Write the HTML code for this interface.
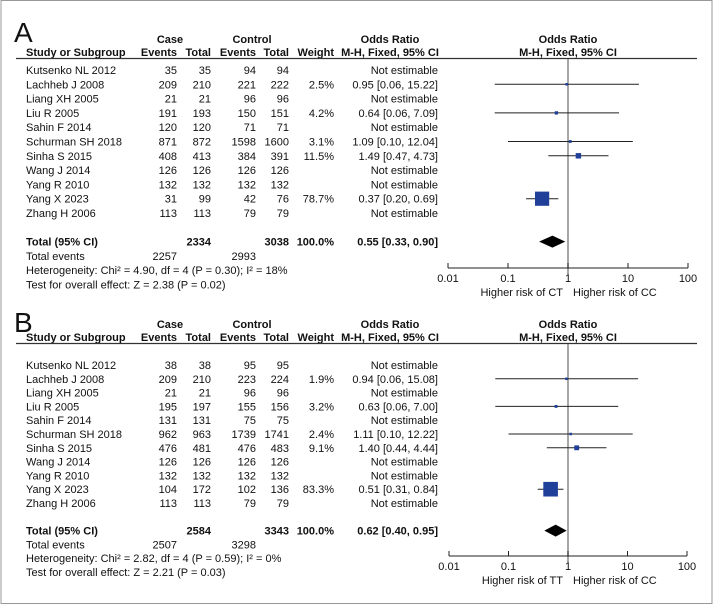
<!DOCTYPE html>
<html><head><meta charset="utf-8"><style>
html,body{margin:0;padding:0;background:#fff}
svg{display:block;font-family:"Liberation Sans",Arial,sans-serif}
</style></head><body>
<svg id="chart" width="714" height="605" viewBox="0 0 714 605">
<rect x="1" y="0.5" width="711" height="603" fill="none" stroke="#999" stroke-width="1"/>
</svg>
<script>
const studies=["Kutsenko NL 2012","Lachheb J 2008","Liang XH 2005","Liu R 2005","Sahin F 2014","Schurman SH 2018","Sinha S 2015","Wang J 2014","Yang R 2010","Yang X 2023","Zhang H 2006"];
const aCaseEv=[35,209,21,191,120,871,408,126,132,31,113];
const aCaseTot=[35,210,21,193,120,872,413,126,132,99,113];
const aCtrlEv=[94,221,96,150,71,1598,384,126,132,42,79];
const aCtrlTot=[94,222,96,151,71,1600,391,126,132,76,79];
const aWeight=[null,2.5,null,4.2,null,3.1,11.5,null,null,78.7,null];
const aOR=[null,0.95,null,0.64,null,1.09,1.49,null,null,0.37,null];
const aLo=[null,0.06,null,0.06,null,0.10,0.47,null,null,0.20,null];
const aHi=[null,15.22,null,7.09,null,12.04,4.73,null,null,0.69,null];
const aTotal=[0.55,0.33,0.90];
const aSums=[2334,3038,2257,2993];
const bCaseEv=[38,209,21,195,131,962,476,126,132,104,113];
const bCaseTot=[38,210,21,197,131,963,481,126,132,172,113];
const bCtrlEv=[95,223,96,155,75,1739,476,126,132,102,79];
const bCtrlTot=[95,224,96,156,75,1741,483,126,132,136,79];
const bWeight=[null,1.9,null,3.2,null,2.4,9.1,null,null,83.3,null];
const bOR=[null,0.94,null,0.63,null,1.11,1.40,null,null,0.51,null];
const bLo=[null,0.06,null,0.06,null,0.10,0.44,null,null,0.31,null];
const bHi=[null,15.08,null,7.00,null,12.22,4.44,null,null,0.84,null];
const bTotal=[0.62,0.40,0.95];
const bSums=[2584,3343,2507,3298];
const ticks=[0.01,0.1,1,10,100];
const tickLabels=["0.01","0.1","1","10","100"];

const svg=document.getElementById('chart');
const NS="http://www.w3.org/2000/svg";
function mk(tag,attrs,parent){const e=document.createElementNS(NS,tag);for(const k in attrs)e.setAttribute(k,attrs[k]);(parent||svg).appendChild(e);return e;}
function txt(x,y,s,anchor,opts,parent){const e=mk('text',Object.assign({x:x,y:y,'font-size':11,'text-anchor':anchor||'start',fill:'#111'},opts||{}),parent);e.textContent=s;return e;}
function f2(v){return v.toFixed(2);}

function panel(P){
  const g=mk('g',{});
  
  
  const x=v=>P.x1+(Math.log10(v)+2)/4*(P.x2-P.x1);
  const rowY=i=>P.top+i*P.rowH;
  const L=txt(14,P.ly,P.letter,'start',{'font-size':28},g);
  
  const b={'font-weight':'bold'};
  txt(170,P.hy+4,'Case','middle',b,g);
  txt(252,P.hy+4,'Control','middle',b,g);
  txt(390,P.hy+4,'Odds Ratio','middle',b,g);
  txt(568,P.hy+4,'Odds Ratio','middle',b,g);
  const hy2=P.hy+17;
  txt(26,hy2,'Study or Subgroup','start',b,g);
  txt(177,hy2,'Events','end',b,g);
  txt(211,hy2,'Total','end',b,g);
  txt(256,hy2,'Events','end',b,g);
  txt(289,hy2,'Total','end',b,g);
  txt(334,hy2,'Weight','end',b,g);
  txt(390,hy2,'M-H, Fixed, 95% CI','middle',b,g);
  txt(568,hy2,'M-H, Fixed, 95% CI','middle',b,g);
  mk('line',{x1:16,x2:697,y1:hy2+2.5,y2:hy2+2.5,stroke:'#333','stroke-width':1.2},g);
  const ref=mk('line',{x1:x(1),x2:x(1),y1:hy2+3,y2:P.axisY+7,stroke:'#888','stroke-width':1.5},g);
  
  for(let i=0;i<studies.length;i++){
    const y=rowY(i)+4;
    const n=txt(26,y,studies[i],'start',{},g);
    
    txt(177,y,String(P.ce[i]),'end',{},g);
    txt(211,y,String(P.ct[i]),'end',{},g);
    txt(256,y,String(P.oe[i]),'end',{},g);
    txt(289,y,String(P.ot[i]),'end',{},g);
    if(P.w[i]!=null){
      txt(334,y,P.w[i].toFixed(1)+'%','end',{},g);
      txt(438,y,f2(P.or[i])+' ['+f2(P.lo[i])+', '+f2(P.hi[i])+']','end',{},g);
      const cy=rowY(i);
      const ci=mk('line',{x1:x(P.lo[i]),x2:x(P.hi[i]),y1:cy,y2:cy,stroke:'#222','stroke-width':1},g);
      
      const s=Math.max(2.5,Math.sqrt(P.w[i])*1.6);
      const sq=mk('rect',{x:x(P.or[i])-s/2,y:cy-s/2,width:s,height:s,fill:'#1f3f99'},g);
      
    } else {
      txt(438,y,'Not estimable','end',{},g);
    }
  }
  const ty=rowY(10)+P.rowH*2;
  txt(26,ty+4,'Total (95% CI)','start',b,g);
  txt(211,ty+4,String(P.sums[0]),'end',b,g);
  txt(289,ty+4,String(P.sums[1]),'end',b,g);
  txt(334,ty+4,'100.0%','end',b,g);
  txt(438,ty+4,f2(P.tot[0])+' ['+f2(P.tot[1])+', '+f2(P.tot[2])+']','end',b,g);
  const d=mk('polygon',{points:`${x(P.tot[1])},${ty} ${x(P.tot[0])},${ty-6} ${x(P.tot[2])},${ty} ${x(P.tot[0])},${ty+6}`,fill:'#000'},g);
  
  txt(26,ty+P.rowH+4,'Total events','start',{},g);
  txt(177,ty+P.rowH+4,String(P.sums[2]),'end',{},g);
  txt(256,ty+P.rowH+4,String(P.sums[3]),'end',{},g);
  txt(26,ty+2*P.rowH+4,P.het,'start',{},g);
  txt(26,ty+3*P.rowH+4,P.test,'start',{},g);
  const ax=mk('line',{x1:P.x1,x2:P.x2,y1:P.axisY,y2:P.axisY,stroke:'#222','stroke-width':1},g);
  
  ticks.forEach((t,i)=>{
    mk('line',{x1:x(t),x2:x(t),y1:P.axisY-5,y2:P.axisY,stroke:'#222','stroke-width':1},g);
    const tl=txt(x(t),P.axisY+14,tickLabels[i],'middle',{},g);
    
  });
  txt(x(1)-5,P.axisY+28,P.leftLab,'end',{},g);
  txt(x(1)+5,P.axisY+28,P.rightLab,'start',{},g);
}
panel({letter:'A',ly:42,hy:39,top:70,rowH:14.3,x1:448,x2:688,axisY:268,ce:aCaseEv,ct:aCaseTot,oe:aCtrlEv,ot:aCtrlTot,w:aWeight,or:aOR,lo:aLo,hi:aHi,tot:aTotal,sums:aSums,
  het:'Heterogeneity: Chi² = 4.90, df = 4 (P = 0.30); I² = 18%',test:'Test for overall effect: Z = 2.38 (P = 0.02)',leftLab:'Higher risk of CT',rightLab:'Higher risk of CC'});
panel({letter:'B',ly:332,hy:324,top:365,rowH:13.8,x1:449,x2:687,axisY:556,ce:bCaseEv,ct:bCaseTot,oe:bCtrlEv,ot:bCtrlTot,w:bWeight,or:bOR,lo:bLo,hi:bHi,tot:bTotal,sums:bSums,
  het:'Heterogeneity: Chi² = 2.82, df = 4 (P = 0.59); I² = 0%',test:'Test for overall effect: Z = 2.21 (P = 0.03)',leftLab:'Higher risk of TT',rightLab:'Higher risk of CC'});
</script>
</body></html>
